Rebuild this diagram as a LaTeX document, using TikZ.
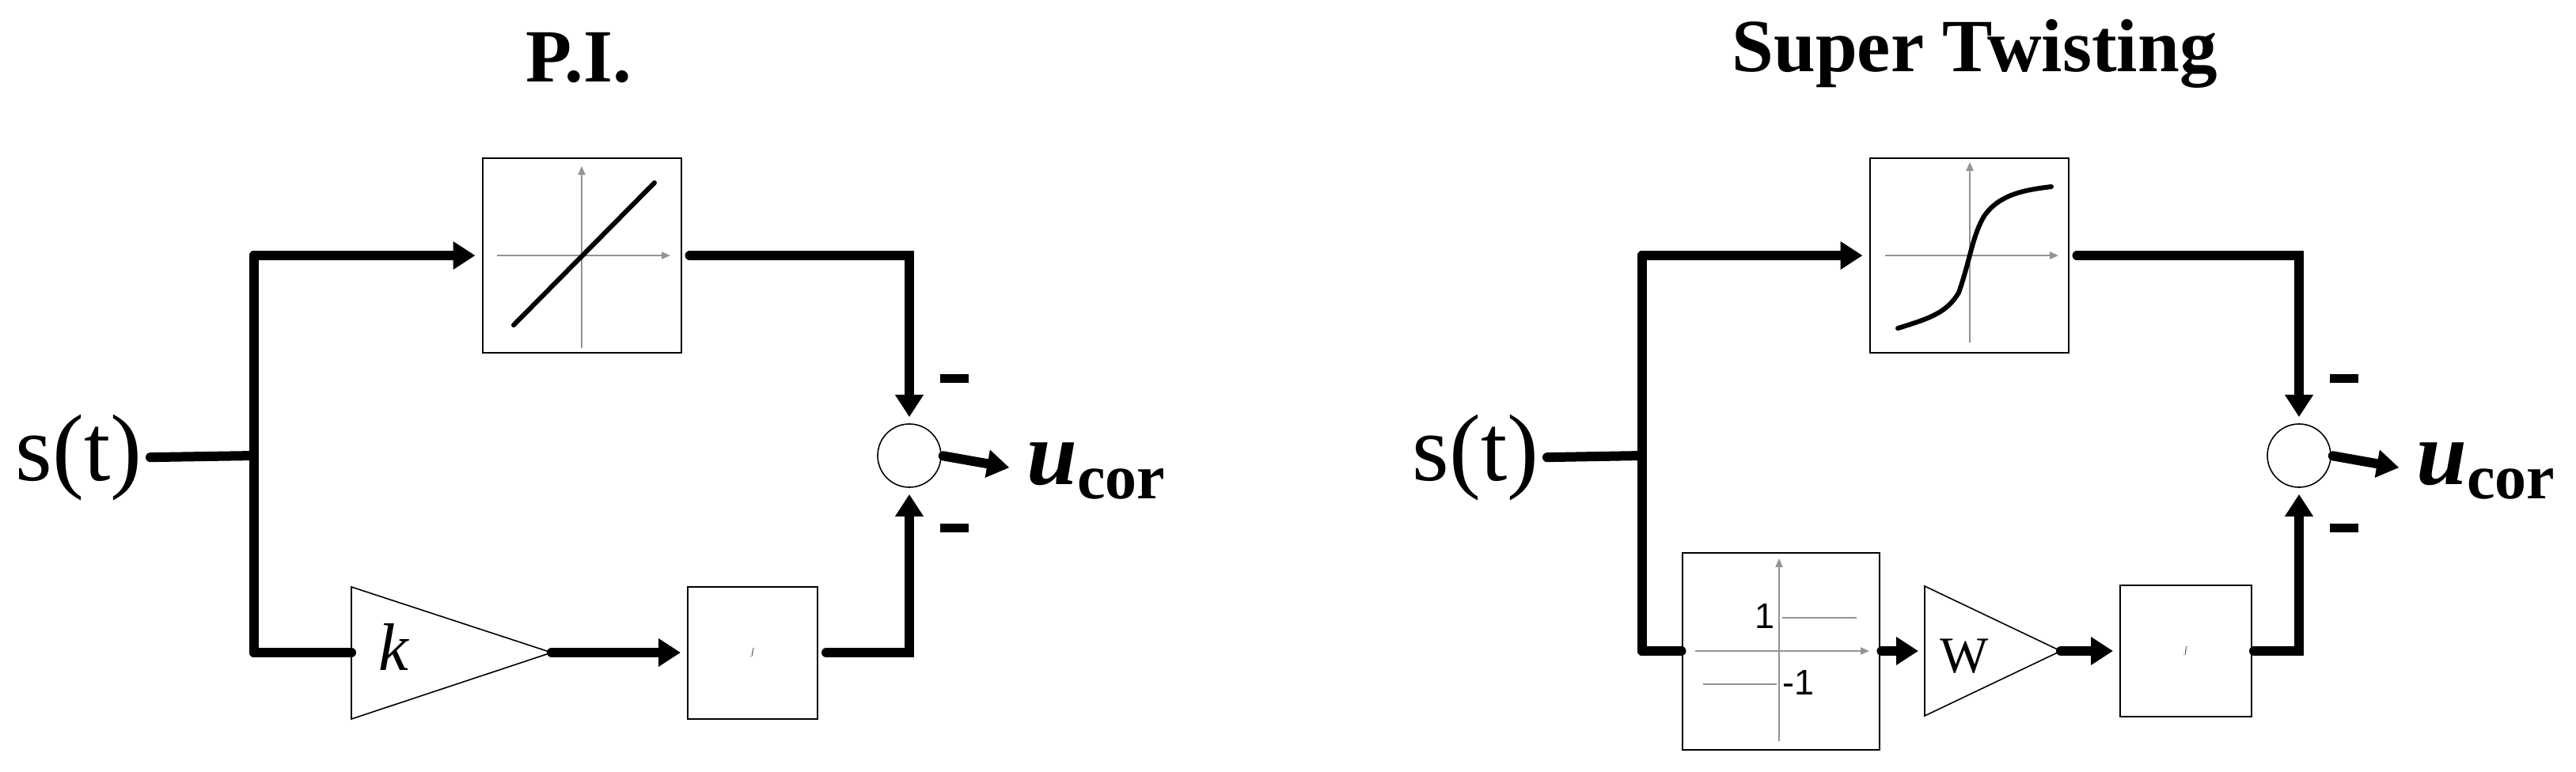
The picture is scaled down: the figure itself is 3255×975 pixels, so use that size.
\documentclass[tikz,border=0pt]{standalone}
\usepackage{fontspec}
\setmainfont{Liberation Serif}
\newfontfamily\axfont{Liberation Sans}
\usetikzlibrary{arrows.meta,calc}
\tikzset{
  wire/.style={line width=12pt,line cap=round,line join=miter},
  arr/.style={wire,-{Triangle[length=28pt,width=34pt]},shorten >=8pt},
  blk/.style={draw,line width=2pt,inner sep=0pt,fill=white},
  sumc/.style={draw,circle,line width=1.6pt,minimum size=80pt,inner sep=0pt},
  axis/.style={gray!85,line width=2pt,-{Triangle[length=11pt,width=9pt]}},
  curve/.style={line width=6pt,line cap=round},
  minus/.style={fill=black,minimum width=36pt,minimum height=11pt,inner sep=0pt},
  ttl/.style={font=\fontsize{95}{95}\selectfont\bfseries,anchor=base},
  sig/.style={font=\fontsize{120}{120}\selectfont,anchor=base east,inner sep=0pt},
  tri/.style={line width=1.6pt}
}
\newcommand{\ucor}{\fontsize{115}{115}\selectfont\textbf{\textit{u}}\raisebox{-18pt}{\fontsize{80}{80}\selectfont\textbf{cor}}}
\begin{document}
\begin{tikzpicture}[x=1pt,y=-1pt]
\useasboundingbox (0,0) rectangle (3255,975);
% ---------------- P.I. ----------------
\node[ttl] (t1) at (731,103) {P.I.};
\node[sig] (st1) at (180,607) {s(t)};
\node[blk,minimum width=251pt,minimum height=246pt] (f1) at (735,323) {};
\draw[axis] (735,440) -- (735,210);
\draw[axis] (628,323) -- (847,323);
\draw[curve] (649,411) -- (827,231);
\node[blk,minimum width=164pt,minimum height=167pt] (i1) at (951,825) {\fontsize{100}{100}\selectfont$\int$};
\coordinate (k1l) at (444,825);
\coordinate (k1r) at (697,825);
\draw[tri] (444,742) -- (697,825) -- (444,909) -- cycle;
\node[font=\fontsize{85}{85}\selectfont\itshape] (k1) at (497,818) {k};
\node[sumc] (c1) at (1149,576) {};
\node[anchor=base west,inner sep=0pt] (u1) at (1297,612) {\ucor};
\node[minus] (m1a) at (1206,478) {};
\node[minus] (m1b) at (1206,667) {};
\coordinate (j1) at (321,576);
\coordinate (a1) at (321,323);
\coordinate (b1) at (321,825);
\draw[wire] ($(st1.east)+(10,0)$) -- (j1);
\draw[wire] (a1) -- (b1);
\draw[arr] (a1) -- (f1.west);
\draw[wire] (b1) -- (k1l);
\draw[arr,shorten <=10pt] (f1.east) -| (c1.north);
\draw[arr] (k1r) -- (i1.west);
\draw[arr,shorten <=10pt] (i1.east) -| (c1.south);
\draw[arr,shorten <=2pt,shorten >=22pt] (c1.east) -- (u1.west);
% ---------------- Super Twisting ----------------
\node[ttl] (t2) at (2495,90) {Super Twisting};
\node[sig] (st2) at (1945,607) {s(t)};
\node[blk,minimum width=251pt,minimum height=246pt] (f2) at (2488,323) {};
\draw[axis] (2489,433) -- (2489,205);
\draw[axis] (2382,323) -- (2601,323);
\draw[curve] (2398,415) .. controls (2440,402) and (2460,395) .. (2475,370)
  .. controls (2489,330) and (2492,300) .. (2506,275)
  .. controls (2525,245) and (2560,240) .. (2592,236);
\node[blk,minimum width=249pt,minimum height=249pt] (r2) at (2250,823) {};
\draw[axis] (2248,937) -- (2248,706);
\draw[axis] (2142,823) -- (2362,823);
\draw[gray!85,line width=2pt] (2252,781) -- (2346,781);
\draw[gray!85,line width=2pt] (2152,865) -- (2245,865);
\node[font=\fontsize{45}{45}\selectfont\axfont,inner sep=0pt] (l1) at (2230,779) {1};
\node[font=\fontsize{45}{45}\selectfont\axfont,inner sep=0pt,anchor=west] (l2) at (2252,863) {-1};
\coordinate (w2l) at (2432,823);
\coordinate (w2r) at (2604,823);
\draw[tri] (2432,741) -- (2604,823) -- (2432,905) -- cycle;
\node[font=\fontsize{65}{65}\selectfont] (w2) at (2482,830) {W};
\node[blk,minimum width=166pt,minimum height=166pt] (i2) at (2762,823) {\fontsize{100}{100}\selectfont$\int$};
\node[sumc] (c2) at (2905,576) {};
\node[anchor=base west,inner sep=0pt] (u2) at (3053,612) {\ucor};
\node[minus] (m2a) at (2962,478) {};
\node[minus] (m2b) at (2962,667) {};
\coordinate (j2) at (2075,576);
\coordinate (a2) at (2075,323);
\coordinate (b2) at (2075,823);
\draw[wire] ($(st2.east)+(10,0)$) -- (j2);
\draw[wire] (a2) -- (b2);
\draw[arr] (a2) -- (f2.west);
\draw[wire] (b2) -- (r2.west);
\draw[arr,shorten <=2pt] (r2.east) -- (w2l);
\draw[arr] (w2r) -- (i2.west);
\draw[arr,shorten <=10pt] (f2.east) -| (c2.north);
\draw[arr,shorten <=2pt] (i2.east) -| (c2.south);
\draw[arr,shorten <=2pt,shorten >=22pt] (c2.east) -- (u2.west);
\end{tikzpicture}
\end{document}
